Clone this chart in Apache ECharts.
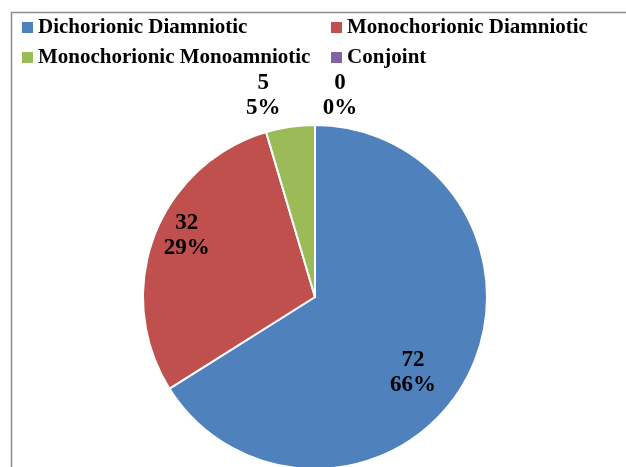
<!DOCTYPE html>
<html><head><meta charset="utf-8">
<script src="https://cdn.jsdelivr.net/npm/echarts@6/dist/echarts.min.js"></script>
<style>html,body{margin:0;padding:0;background:#fff}#c{width:626px;height:467px}</style>
</head><body><div id="c"></div>
<script>
const categories = ['Dichorionic Diamniotic', 'Monochorionic Diamniotic', 'Monochorionic Monoamniotic', 'Conjoint'];
const values = [72, 32, 5, 0];
const colors = ['#4F81BD', '#C0504D', '#9BBB59', '#8064A2'];
const labelInside = [true, true, false, false];
const labelShift = [[20, 33], [-45, -30], [-22, -31], [30, -29]];

const FONT = "'Liberation Serif', 'Times New Roman', serif";
const chart = echarts.init(document.getElementById('c'));
const legendPos = [[22, 17], [331, 17], [22, 47], [331, 47]];
chart.setOption({
  animation: false,
  color: colors,
  graphic: [{type: 'rect', shape: {x: 11.5, y: 12.5, width: 700, height: 600}, style: {fill: 'none', stroke: '#8c8c8c', lineWidth: 1.5}, silent: true}],
  legend: categories.map((c, i) => ({
    data: [c], left: legendPos[i][0], top: legendPos[i][1], padding: 0,
    itemWidth: 11, itemHeight: 11, icon: 'rect', selectedMode: false,
    itemStyle: {borderWidth: 0, borderColor: 'transparent'},
    textStyle: {fontFamily: FONT, fontWeight: 'bold', fontSize: 21, color: '#000', padding: [0,0,0,0]}
  })),
  series: [{
    type: 'pie', center: [315, 297], radius: 172, startAngle: 90, clockwise: true,
    avoidLabelOverlap: false,
    itemStyle: {borderColor: '#fff', borderWidth: 2},
    labelLine: {show: false, length: 0, length2: 0},
    label: {fontFamily: FONT, fontWeight: 'bold', fontSize: 23, color: '#000', lineHeight: 25,
      formatter: p => p.value + '\n' + Math.round(p.percent) + '%'},
    labelLayout: p => ({dx: labelShift[p.dataIndex][0], dy: labelShift[p.dataIndex][1], align: 'center'}),
    data: categories.map((c, i) => ({name: c, value: values[i],
      label: {position: labelInside[i] ? 'inside' : 'outside', align: 'center'}}))
  }]
});
</script></body></html>
